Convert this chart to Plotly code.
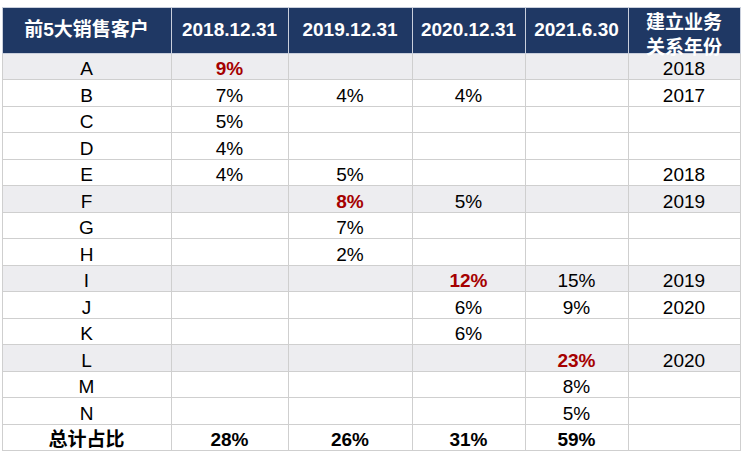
import plotly.graph_objects as go

customers = list("ABCDEFGHIJKLMN")
periods = ["2018.12.31", "2019.12.31", "2020.12.31", "2021.6.30"]

# 各期销售占比（%），None 表示未进入前5
share_2018 = [9, 7, 5, 4, 4, None, None, None, None, None, None, None, None, None]
share_2019 = [None, 4, None, None, 5, 8, 7, 2, None, None, None, None, None, None]
share_2020 = [None, 4, None, None, None, 5, None, None, 12, 6, 6, None, None, None]
share_2021 = [None, None, None, None, None, None, None, None, 15, 9, None, 23, 8, 5]
start_year = ["2018", "2017", "", "", "2018", "2019", "", "", "2019", "2020", "", "2020", "", ""]
totals = [28, 26, 31, 59]

NAVY = "#1f3864"
RED = "#a50000"
SHADE = "#ededf0"
FONT = "Arial, Liberation Sans, Noto Sans CJK SC"

shares = [share_2018, share_2019, share_2020, share_2021]
n = len(customers)

# 普通字放一张表，加粗字（每期最大客户、合计行）放一张叠在上面的透明表
top_rows = set()
plain_cols, bold_cols, bold_colors = [], [], []
for col in shares:
    best = max(v for v in col if v is not None)
    plain, bold, colors = [], [], []
    for i, v in enumerate(col):
        if v is not None and v == best:
            plain.append("")
            bold.append(f"{v}%")
            top_rows.add(i)
        else:
            plain.append("" if v is None else f"{v}%")
            bold.append("")
        colors.append(RED)
    plain_cols.append(plain + [""])
    bold_cols.append(bold)
    bold_colors.append(colors + ["black"])

for b, t in zip(bold_cols, totals):
    b.append(f"{t}%")

blank = [""] * (n + 1)
plain_values = [customers + [""]] + plain_cols + [start_year + [""]]
bold_values = [[""] * n + ["总计占比"]] + bold_cols + [blank]
bold_font_colors = [["black"] * (n + 1)] + bold_colors + [["black"] * (n + 1)]

row_fill = [SHADE if i in top_rows else "white" for i in range(n)] + ["white"]
fills = [row_fill] * len(plain_values)

header = ["前5大销售客户"] + periods + [""]
last_header = "建立业务<br>关系年份"
col_widths = [169, 117, 124, 113, 103, 112]
HEADER_H, ROW_H = 46, 26.5
CLEAR = "rgba(0,0,0,0)"

W, H = 746, 461
ml, mr, mt = 2, 6, 7
plot_h = H - mt

fig = go.Figure()
# 底表：表头底色、灰底行、普通文字
fig.add_trace(go.Table(
    columnwidth=col_widths,
    header=dict(
        values=[""] * len(header),
        fill_color=NAVY,
        line=dict(color="#c9cfdc", width=1),
        height=HEADER_H,
    ),
    cells=dict(
        values=plain_values,
        fill_color=fills,
        line=dict(color="#cfcfcf", width=1),
        font=dict(family=FONT, size=19, color="black"),
        align="center",
        height=ROW_H,
    ),
))
# 加粗文字
fig.add_trace(go.Table(
    columnwidth=col_widths,
    header=dict(
        values=[""] * len(header),
        fill_color=CLEAR,
        line=dict(color=CLEAR, width=0),
        height=HEADER_H,
    ),
    cells=dict(
        values=bold_values,
        fill_color=CLEAR,
        line=dict(color=CLEAR, width=0),
        font=dict(family=FONT, size=19, color=bold_font_colors, weight="bold"),
        align="center",
        height=ROW_H,
    ),
))
# 表头文字：单独一张透明表，稍往下放，让文字在表头里居中
fig.add_trace(go.Table(
    domain=dict(x=[0, 1], y=[0, 1 - 7 / plot_h]),
    columnwidth=col_widths,
    header=dict(
        values=header,
        fill_color=CLEAR,
        line=dict(color=CLEAR, width=0),
        font=dict(family=FONT, size=19, color="white", weight="bold"),
        align="center",
        height=HEADER_H - 7,
    ),
    cells=dict(values=[[] for _ in header], fill_color=CLEAR,
               line=dict(color=CLEAR, width=0)),
))

# 最后一列表头两行，用注释单独放，避免表头被撑高
total_w = sum(col_widths)
last_center = (total_w - col_widths[-1] / 2) / total_w
fig.add_annotation(
    x=last_center, y=1 - (34 - mt) / plot_h,
    xref="paper", yref="paper",
    text=f"<b>{last_header}</b>",
    showarrow=False,
    font=dict(family=FONT, size=19, color="white"),
    xanchor="center", yanchor="middle",
)

fig.update_layout(
    width=W,
    height=H,
    margin=dict(l=ml, r=mr, t=mt, b=0),
    paper_bgcolor="white",
)

fig.write_html("out.html", config={"displayModeBar": False},
               post_script="document.body.style.margin='0';")
